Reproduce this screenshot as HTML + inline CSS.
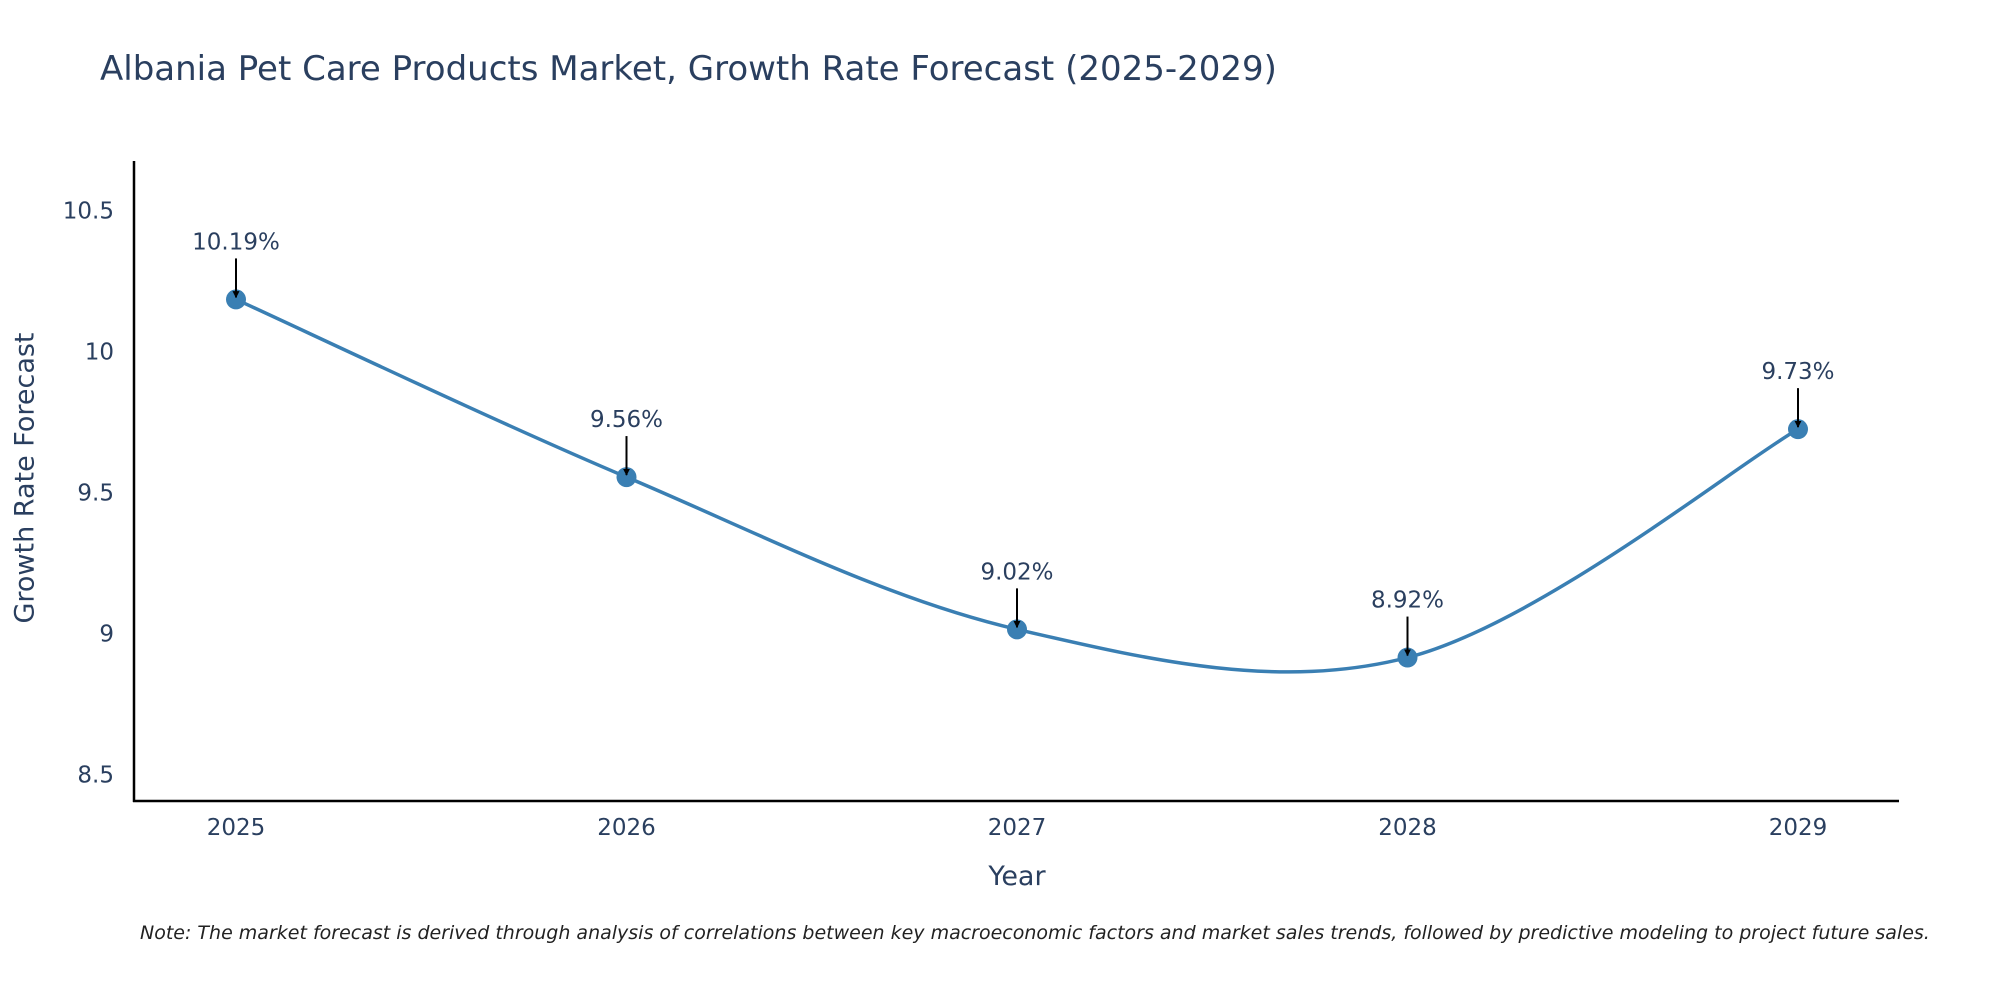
<!DOCTYPE html>
<html><head><meta charset="utf-8"><style>
html,body{margin:0;padding:0;background:#fff;}
svg{display:block;font-family:"DejaVu Sans","Liberation Sans",sans-serif;}
</style></head><body>
<svg id="chart" width="2000" height="1000" viewBox="0 0 2000 1000">
<defs><marker id="ah" viewBox="0 0 10 10" refX="9" refY="5" markerWidth="7" markerHeight="7" markerUnits="userSpaceOnUse" orient="auto"><path d="M0,0L10,5L0,10z" fill="#000"/></marker></defs>
<text x="100" y="80" font-size="34" fill="#2a3f5f">Albania Pet Care Products Market, Growth Rate Forecast (2025-2029)</text>
<g id="yticks"></g>
<g id="xticks"></g>
<line x1="134" y1="161" x2="134" y2="802" stroke="#000" stroke-width="2.5"/>
<line x1="133" y1="801" x2="1899" y2="801" stroke="#000" stroke-width="2.5"/>
<path id="line" fill="none" stroke="#3a7fb3" stroke-width="3.5"/>
<g id="points"></g>
<text x="26" y="478" font-size="27" fill="#2a3f5f" text-anchor="middle" transform="rotate(-90 26 478)" dominant-baseline="middle">Growth Rate Forecast</text>
<text x="1017" y="885" font-size="27" fill="#2a3f5f" text-anchor="middle">Year</text>
<text x="140" y="939" font-size="19" font-style="italic" fill="#222">Note: The market forecast is derived through analysis of correlations between key macroeconomic factors and market sales trends, followed by predictive modeling to project future sales.</text>
</svg>
<script>
const years = ["2025","2026","2027","2028","2029"];
const values = [10.19, 9.56, 9.02, 8.92, 9.73];
const labels = ["10.19%","9.56%","9.02%","8.92%","9.73%"];
const yTickValues = [8.5, 9, 9.5, 10, 10.5];
const yTickLabels = ["8.5","9","9.5","10","10.5"];
const NS="http://www.w3.org/2000/svg";
const x0=236,x1=1798;
function xs(i){return x0+(x1-x0)*i/(years.length-1);}
function ys(v){return 776-(v-8.5)*282;}
function mk(tag,attrs,parent){const e=document.createElementNS(NS,tag);for(const k in attrs)e.setAttribute(k,attrs[k]);parent.appendChild(e);return e;}
const yt=document.getElementById('yticks');
yTickValues.forEach((v,i)=>{const t=mk('text',{x:114,y:ys(v),'font-size':23,fill:'#2a3f5f','text-anchor':'end','dominant-baseline':'middle'},yt);


t.textContent=yTickLabels[i];});
const xt=document.getElementById('xticks');
years.forEach((y,i)=>{const t=mk('text',{x:xs(i),y:835,'font-size':23,fill:'#2a3f5f','text-anchor':'middle'},xt);


t.textContent=y;});
const P=values.map((v,i)=>[xs(i),ys(v)]);
let d='M'+P[0][0]+','+P[0][1];
for(let i=0;i<P.length-1;i++){const p0=P[Math.max(0,i-1)],p1=P[i],p2=P[i+1],p3=P[Math.min(P.length-1,i+2)];
const c1=[p1[0]+(p2[0]-p0[0])/6,p1[1]+(p2[1]-p0[1])/6],c2=[p2[0]-(p3[0]-p1[0])/6,p2[1]-(p3[1]-p1[1])/6];
d+=` C${c1[0]},${c1[1]} ${c2[0]},${c2[1]} ${p2[0]},${p2[1]}`;}
document.getElementById('line').setAttribute('d',d);
const pg=document.getElementById('points');
P.forEach((p,i)=>{const c=mk('circle',{cx:p[0],cy:p[1],r:10,fill:'#3a7fb3'},pg);


const a=mk('line',{x1:p[0],y1:p[1]-41,x2:p[0],y2:p[1]-2,stroke:'#000','stroke-width':2,'marker-end':'url(#ah)'},pg);


const t=mk('text',{x:p[0],y:p[1]-50,'font-size':23,fill:'#2a3f5f','text-anchor':'middle'},pg);


t.textContent=labels[i];});
</script>
</body></html>
